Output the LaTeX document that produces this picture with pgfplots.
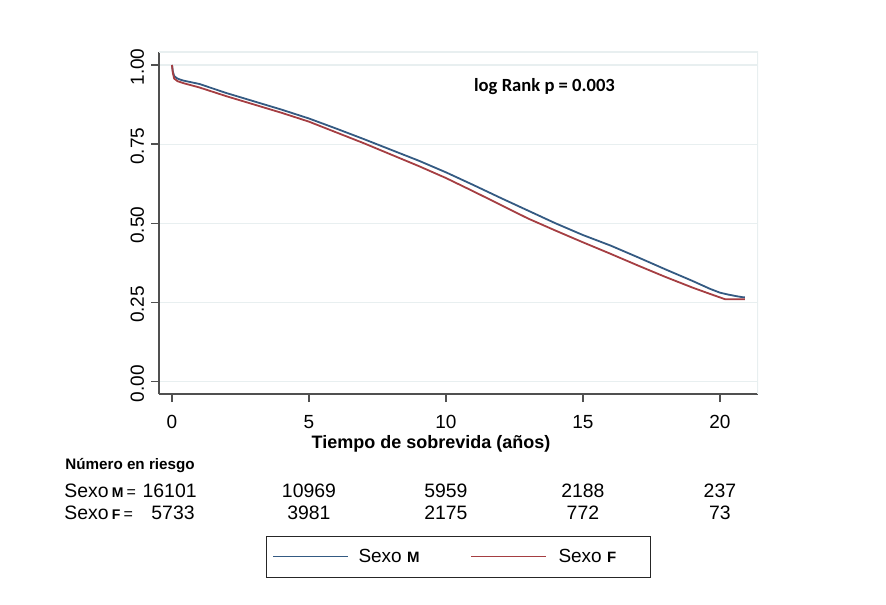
\documentclass[border=0pt]{standalone}
\usepackage{pgfplots}
\pgfplotsset{compat=1.18}
\usepackage{fontspec}
\setmainfont{Liberation Sans}
\newfontfamily\carlito{Carlito}
\definecolor{kmblue}{RGB}{52,90,130}
\definecolor{kmred}{RGB}{165,62,66}
\definecolor{axgray}{RGB}{80,80,80}
\definecolor{gridc}{RGB}{232,239,240}
\begin{document}
\begin{tikzpicture}[x=1pt,y=1pt]
\path (0,0) rectangle (443,302);
\begin{axis}[at={(79.5pt,105pt)}, anchor=south west, scale only axis,
  width=299.5pt, height=171pt,
  xmin=-0.474, xmax=21.39, ymin=-0.039, ymax=1.041,
  axis x line*=bottom, axis y line*=left,
  axis line style={axgray, line width=0.75pt, -},
  xtick={0,5,10,15,20}, ytick={0,0.25,0.5,0.75,1},
  yticklabels={0.00,0.25,0.50,0.75,1.00},
  tick align=outside, major tick length=4pt,
  tick style={axgray, line width=0.75pt},
  ymajorgrids, grid style={gridc, line width=0.6pt},
  ticklabel style={font=\fontsize{9.5}{10}\selectfont},
  /pgf/number format/assume math mode=true,
  xticklabel style={yshift=-3pt},
  yticklabel style={rotate=90, anchor=south, xshift=-1pt},
  xlabel={Tiempo de sobrevida (años)},
  xlabel style={font=\bfseries\fontsize{9}{10}\selectfont, xshift=-13.75pt, yshift=3.5pt},
  legend columns=2,
  legend style={at={(0.5,-0.4766)}, anchor=center, draw=black!85,
    line width=0.6pt, font=\fontsize{9.5}{10}\selectfont,
    inner xsep=3pt, inner ysep=4pt,
    /tikz/every even column/.append style={column sep=0pt}},
  legend image code/.code={\draw[#1, line width=0.5pt] (0pt,0pt) -- (37.5pt,0pt);},
]
\draw[gridc, line width=0.6pt] (rel axis cs:0,1) -- (rel axis cs:1,1) -- (rel axis cs:1,0);
\addplot[kmblue, line width=0.9pt] coordinates {
(0,1.000) (0.03,0.980) (0.08,0.965) (0.2,0.957) (0.4,0.951) (1,0.940)
(2,0.911) (3,0.885) (4,0.859) (5,0.831) (6,0.799) (7,0.766)
(8,0.732) (9,0.698) (10,0.661) (11,0.621) (12,0.580) (13,0.540)
(14,0.500) (15,0.463) (16,0.430) (17,0.393) (18,0.355) (19,0.318)
(19.64,0.293) (20,0.281) (20.3,0.275) (20.6,0.270) (20.8,0.267) (20.91,0.266)
};
\addlegendentry{\hspace{3pt}\makebox[54pt][l]{Sexo {\bfseries\fontsize{7.5}{8}\selectfont M}}}
\addplot[kmred, line width=0.9pt] coordinates {
(0,1.000) (0.03,0.975) (0.08,0.957) (0.2,0.949) (0.4,0.943) (1,0.929)
(2,0.901) (3,0.875) (4,0.849) (5,0.821) (6,0.787) (7,0.753)
(8,0.717) (9,0.681) (10,0.643) (11,0.601) (12,0.558) (13,0.515)
(14,0.477) (15,0.440) (16,0.404) (17,0.367) (18,0.331) (19,0.297)
(19.64,0.277) (20,0.266) (20.2,0.260) (20.91,0.260)
};
\addlegendentry{\hspace{4pt}\makebox[41pt][l]{Sexo {\bfseries\fontsize{7.5}{8}\selectfont F}}}
\end{axis}
\node[font=\carlito\bfseries\fontsize{9.3}{10}\selectfont] at (272.25,258.5) {log Rank p = 0.003};
\node[font=\bfseries\fontsize{7.6}{8}\selectfont, anchor=base west, inner sep=0pt] at (32.5,67) {Número en riesgo};
\begin{scope}[every node/.style={font=\fontsize{9.7}{10}\selectfont, inner sep=0pt, anchor=base}]
\node[anchor=base west] at (32,53.5) {Sexo\,{\bfseries\fontsize{7}{8}\selectfont M}\,{\fontsize{8}{8}\selectfont=}};
\node[anchor=base east] at (98.5,53.5) {16101};
\node at (154.48,53.5) {10969};
\node at (222.97,53.5) {5959};
\node at (291.46,53.5) {2188};
\node at (359.95,53.5) {237};
\node[anchor=base west] at (32,42.5) {Sexo\,{\bfseries\fontsize{7}{8}\selectfont F}\,{\fontsize{8}{8}\selectfont=}};
\node[anchor=base east] at (97.5,42.5) {5733};
\node at (154.48,42.5) {3981};
\node at (222.97,42.5) {2175};
\node at (291.46,42.5) {772};
\node at (359.95,42.5) {73};
\end{scope}
\end{tikzpicture}
\end{document}
